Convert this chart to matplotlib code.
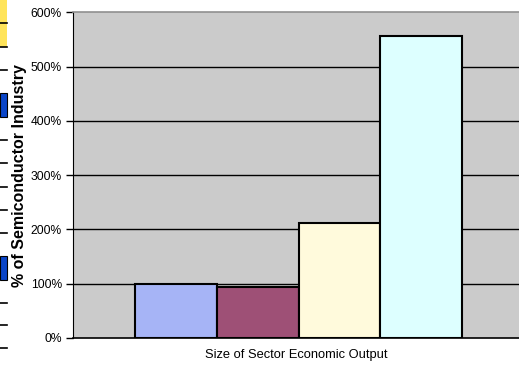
import matplotlib.pyplot as plt
from matplotlib.patches import Rectangle
from matplotlib.lines import Line2D

categories = ['A', 'B', 'C', 'D']
values = [100, 94, 212, 556]
colors = ['#A6B4F6', '#9E5076', '#FFFADC', '#DDFFFF']
yticks = [0, 100, 200, 300, 400, 500, 600]

plt.rcParams['font.family'] = ['Liberation Sans', 'DejaVu Sans']

fig = plt.figure(figsize=(5.19, 3.72), dpi=100)
ax = fig.add_axes([0.1407, 0.0914, 0.8593, 0.875])
ax.set_facecolor('#CBCBCB')

x = list(range(len(categories)))
ax.bar(x, values, width=1.0, color=colors, edgecolor='black', linewidth=1.5, zorder=3)

for y in yticks[1:-1]:
    ax.axhline(y, color='black', linewidth=1.0, zorder=1)

ax.set_xlim(-1.256, 4.195)
ax.set_ylim(0, 600)
ax.set_yticks(yticks)
ax.set_yticklabels([str(t) + '%' for t in yticks], fontsize=8.7)
ax.set_xticks([])
ax.tick_params(axis='y', direction='out', length=5, width=1, pad=3)

ax.spines['top'].set_color('#909090')
ax.spines['top'].set_linewidth(1.2)
ax.spines['right'].set_visible(False)
ax.spines['left'].set_color('black')
ax.spines['bottom'].set_color('black')
ax.spines['bottom'].set_linewidth(1.2)

ax.set_xlabel('Size of Sector Economic Output', fontsize=9.3, labelpad=8)
ax.set_ylabel('% of Semiconductor Industry', fontsize=11.5, fontweight='bold')
# label sits right of the legend scraps, centred around x=20px
ax.yaxis.set_label_coords((27 - 73) / (0.8593 * 519), 0.5)

# leftover bits of a neighbouring legend at the left edge
W, H = 519.0, 372.0
fig.patches.append(Rectangle((0, 1 - 47 / H), 7 / W, 47 / H, transform=fig.transFigure,
                             facecolor='#FFE45A', edgecolor='none'))
for yy in [93, 256]:
    fig.patches.append(Rectangle((0, 1 - (yy + 24) / H), 7 / W, 24 / H, transform=fig.transFigure,
                                 facecolor='#0A45C8', edgecolor='black', linewidth=0.8))
for yy in [23, 47, 70, 140, 163, 187, 210, 233, 303, 325, 348]:
    fig.lines.append(Line2D([0, 7 / W], [1 - yy / H, 1 - yy / H], transform=fig.transFigure,
                            color='black', linewidth=1.2))

plt.savefig('out.png', dpi=100)
